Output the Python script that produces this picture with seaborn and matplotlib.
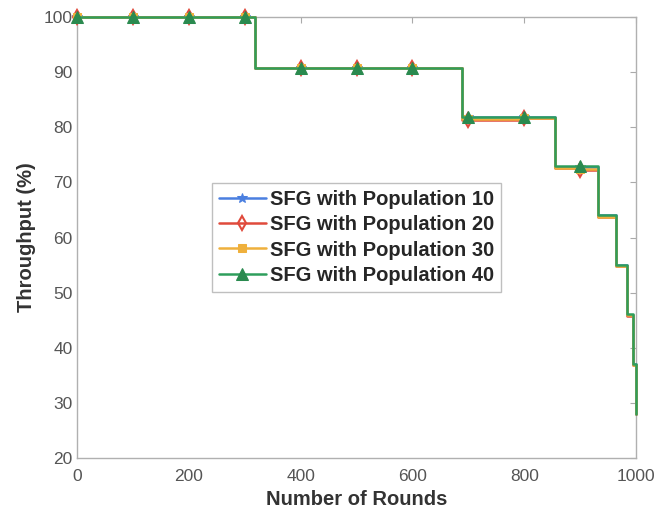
import matplotlib
matplotlib.use("Agg")
import matplotlib.pyplot as plt
import seaborn as sns
import pandas as pd

rounds = [0, 100, 200, 300, 318, 400, 500, 600, 689, 700, 800, 855, 900, 932, 964, 984, 995, 1000]
pop10 = [100, 100, 100, 100, 90.8, 90.8, 90.8, 90.8, 81.8, 81.8, 81.8, 72.8, 72.8, 64.0, 55.0, 46.0, 37.0, 28.0]
pop20 = [100, 100, 100, 100, 90.7, 90.7, 90.7, 90.7, 81.4, 81.4, 81.6, 72.6, 72.3, 63.8, 54.8, 45.8, 36.8, 28.0]
pop30 = [100, 100, 100, 100, 90.7, 90.7, 90.7, 90.7, 81.5, 81.5, 81.6, 72.6, 72.5, 63.8, 54.9, 45.9, 36.9, 28.0]
pop40 = [100, 100, 100, 100, 90.8, 90.8, 90.8, 90.8, 81.9, 81.9, 81.9, 72.9, 73.0, 64.1, 55.1, 46.1, 37.1, 28.0]
labels = ["SFG with Population 10", "SFG with Population 20",
          "SFG with Population 30", "SFG with Population 40"]
x_ticks = [0, 200, 400, 600, 800, 1000]
y_ticks = [20, 30, 40, 50, 60, 70, 80, 90, 100]

sns.set_style("white")
plt.rcParams["font.family"] = ["Liberation Sans", "DejaVu Sans"]

fig = plt.figure(figsize=(6.55, 5.16), dpi=100)
ax = fig.add_axes([0.1176, 0.1124, 0.8534, 0.8546])

styles = [
    dict(color="#4a7fe0", marker="*", markersize=7, markerfacecolor="#4a7fe0", markeredgecolor="#4a7fe0"),
    dict(color="#e04a3c", marker="d", markersize=7, markerfacecolor="none", markeredgecolor="#e04a3c", markeredgewidth=1.5),
    dict(color="#efb03c", marker="s", markersize=6, markerfacecolor="#efb03c", markeredgecolor="#efb03c"),
    dict(color="#2e9e5c", marker="^", markersize=8, markerfacecolor="#2a8a4f", markeredgecolor="#2a8a4f"),
]
mark_idx = [i for i, r in enumerate(rounds) if r % 100 == 0 and r < 1000]
for vals, lab, st in zip([pop10, pop20, pop30, pop40], labels, styles):
    df = pd.DataFrame({"Rounds": rounds, "Throughput": vals})
    sns.lineplot(data=df, x="Rounds", y="Throughput", ax=ax, label=lab,
                 drawstyle="steps-post", linewidth=1.8, markevery=mark_idx,
                 clip_on=False, zorder=3, **st)

ax.set_xlim(0, 1000)
ax.set_ylim(20, 100)
ax.set_xticks(x_ticks)
ax.set_yticks(y_ticks)
ax.tick_params(direction="in", length=4, top=True, right=True, colors="#aaaaaa",
               labelcolor="#555555", labelsize=12.5)
ax.tick_params(axis="x", pad=8)
ax.tick_params(axis="y", pad=3)
for s in ax.spines.values():
    s.set_color("#b0b0b0")
    s.set_linewidth(1.0)
ax.set_xlabel("Number of Rounds", fontsize=14.5, fontweight="bold", color="#333333", labelpad=4)
ax.set_ylabel("Throughput (%)", fontsize=14.5, fontweight="bold", color="#333333", labelpad=6)

leg = ax.legend(loc="center", prop={"weight": "bold", "size": 14.5}, frameon=True,
                fancybox=False, edgecolor="#b0b0b0", handlelength=2.3,
                handletextpad=0.2, borderpad=0.35, labelspacing=0.3,
                borderaxespad=0)
leg.get_frame().set_linewidth(1.0)

fig.savefig("out.png", dpi=100)
